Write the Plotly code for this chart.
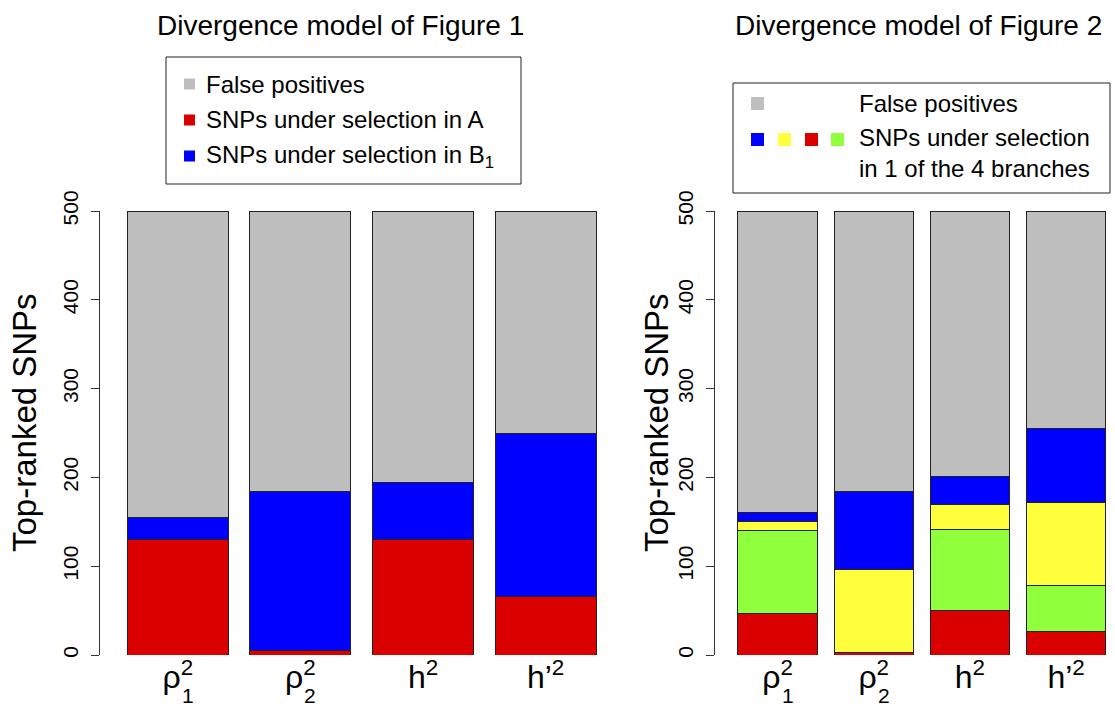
import plotly.graph_objects as go

# ---------------- data ----------------
methods = ["rho1", "rho2", "h2", "hp2"]
method_labels = ["ρ<sup>2</sup>", "ρ<sup>2</sup>", "h<sup>2</sup>", "h’<sup>2</sup>"]
rho_subscripts = {"rho1": "1", "rho2": "2"}

# panel 1 : divergence model of Figure 1
fig1_sel_A = [130, 5, 130, 66]
fig1_sel_B1 = [25, 179, 64, 184]
fig1_false_pos = [345, 316, 306, 250]

# panel 2 : divergence model of Figure 2 (bottom -> top)
fig2_red = [47, 3, 50, 27]
fig2_green = [93, 0, 91, 51]
fig2_yellow = [10, 93, 29, 94]
fig2_blue = [10, 88, 31, 83]
fig2_false_pos = [340, 316, 299, 245]

y_ticks = [0, 100, 200, 300, 400, 500]

# ---------------- style ----------------
W, H = 1115, 707
FONT = "Liberation Sans, Arial, Helvetica, sans-serif"
GRAY = "#BEBEBE"
RED = "#DA0000"
BLUE = "#0000FF"
YELLOW = "#FFFF3C"
GREEN = "#90FF3C"
EDGE = "#222222"


def px(x):
    return x / W


def py(y):
    return 1 - y / H


fig = go.Figure()


def add_bar(values, color, xa, ya):
    fig.add_trace(go.Bar(
        x=methods, y=values, xaxis=xa, yaxis=ya,
        marker=dict(color=color, line=dict(color=EDGE, width=1)),
        cliponaxis=False, showlegend=False, hoverinfo="y",
    ))


for vals, col in [(fig1_sel_A, RED), (fig1_sel_B1, BLUE), (fig1_false_pos, GRAY)]:
    add_bar(vals, col, "x", "y")

for vals, col in [(fig2_red, RED), (fig2_green, GREEN), (fig2_yellow, YELLOW),
                  (fig2_blue, BLUE), (fig2_false_pos, GRAY)]:
    add_bar(vals, col, "x2", "y2")

xaxis_common = dict(
    type="category", tickvals=methods, ticktext=method_labels,
    tickfont=dict(size=32, color="black", family=FONT),
    showline=False, showgrid=False, zeroline=False, ticks="",
    fixedrange=True, automargin=False,
)
yaxis_common = dict(
    range=[0, 500], tickvals=y_ticks, tickangle=-90,
    tickfont=dict(size=21, color="black", family=FONT),
    showline=True, linecolor="#333333", linewidth=1,
    ticks="outside", ticklen=8, tickwidth=1, tickcolor="#333333",
    ticklabelstandoff=5,
    showgrid=False, zeroline=False, fixedrange=True, automargin=False,
)

y_dom = [py(655), py(211)]

fig.update_layout(
    width=W, height=H,
    margin=dict(l=0, r=0, t=0, b=0, autoexpand=False),
    paper_bgcolor="white", plot_bgcolor="white",
    barmode="stack", bargap=0.175,
    font=dict(family=FONT, color="black"),
    xaxis=dict(xaxis_common, domain=[px(100), px(620)], range=[-0.635, 3.607], anchor="y"),
    yaxis=dict(yaxis_common, domain=y_dom, anchor="x"),
    xaxis2=dict(xaxis_common, domain=[px(715), 1], range=[-0.65, 3.508], anchor="y2"),
    yaxis2=dict(yaxis_common, domain=y_dom, anchor="x2"),
)

annotations = []
shapes = []

# stacked subscripts under the superscript for the rho labels
for xa in ["x", "x2"]:
    for m, sub in rho_subscripts.items():
        annotations.append(dict(
            x=m, xref=xa, y=0, yref="y" if xa == "x" else "y2",
            text=sub, showarrow=False, xanchor="center", yanchor="middle",
            xshift=10, yshift=-40, borderpad=0, font=dict(size=21, family=FONT),
        ))

# titles
annotations.append(dict(x=px(340), y=py(25), xref="paper", yref="paper",
                        text="Divergence model of Figure 1", showarrow=False,
                        font=dict(size=28), xanchor="center", yanchor="middle"))
annotations.append(dict(x=px(918), y=py(25), xref="paper", yref="paper",
                        text="Divergence model of Figure 2", showarrow=False,
                        font=dict(size=28), xanchor="center", yanchor="middle"))

# y-axis titles
for xc in [24, 656]:
    annotations.append(dict(x=px(xc), y=py(423), xref="paper", yref="paper",
                            text="Top-ranked SNPs", showarrow=False, textangle=-90,
                            font=dict(size=33), xanchor="center", yanchor="middle"))


def box(x0, y0, x1, y1, fill=None, line=True):
    shapes.append(dict(
        type="rect", xref="paper", yref="paper",
        x0=px(x0), x1=px(x1), y0=py(y1), y1=py(y0),
        fillcolor=fill if fill else "rgba(0,0,0,0)",
        line=dict(color="#222222", width=1) if line else dict(width=0),
    ))


def legend_text(x, y, text):
    annotations.append(dict(x=px(x), y=py(y), xref="paper", yref="paper",
                            text=text, showarrow=False, font=dict(size=24),
                            xanchor="left", yanchor="middle"))


# legend panel 1
box(166, 57, 521, 184)
for yc, col, txt in [(84, GRAY, "False positives"),
                     (120, RED, "SNPs under selection in A"),
                     (156, BLUE, "SNPs under selection in B<sub>1</sub>")]:
    box(184, yc - 5.5, 195, yc + 5.5, fill=col, line=False)
    legend_text(204, yc, txt)

# legend panel 2
box(733, 83, 1110, 193)
box(751, 97, 764, 110, fill=GRAY, line=False)
for x0, col in [(751, BLUE), (778, YELLOW), (805, RED), (831, GREEN)]:
    box(x0, 133, x0 + 13, 146, fill=col, line=False)
legend_text(857, 103, "False positives")
legend_text(857, 138, "SNPs under selection")
legend_text(857, 168, "in 1 of the 4 branches")

fig.update_layout(annotations=annotations, shapes=shapes)

# page without the default body margin so the figure fills the window
fig.write_html(
    "out.html",
    config={"displayModeBar": False},
    post_script="document.body.style.margin='0';document.body.style.overflow='hidden';",
)
